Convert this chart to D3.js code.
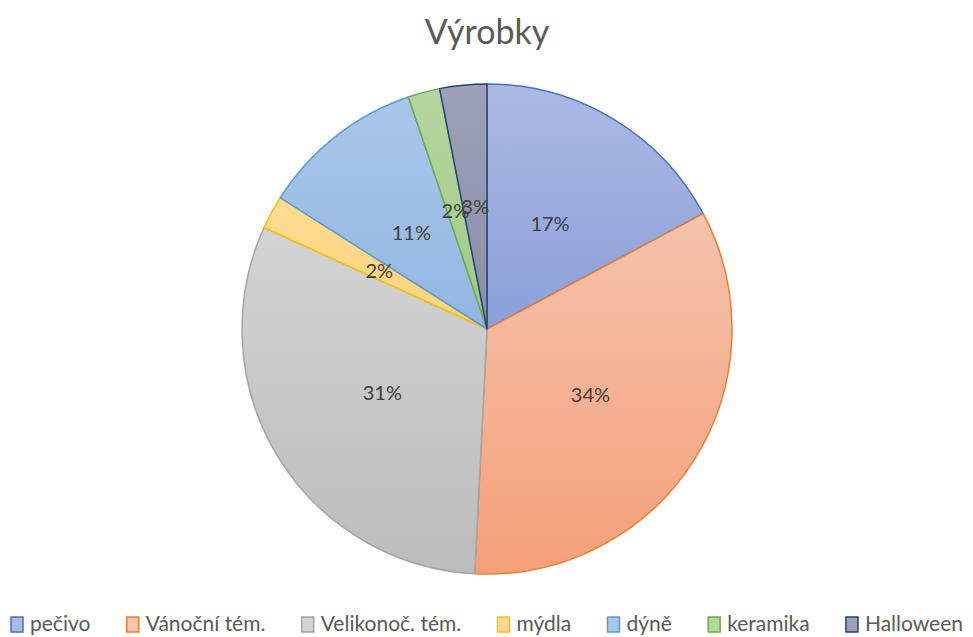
<!DOCTYPE html>
<html>
<head>
<meta charset="utf-8">
<script src="https://cdn.jsdelivr.net/npm/d3@7"></script>
<style>
  body { margin: 0; background: #fff; }
  text { font-family: Lato, "Open Sans", sans-serif; }
</style>
</head>
<body>
<div id="chart"></div>
<script>
const categories = ['pečivo', 'Vánoční tém.', 'Velikonoč. tém.', 'mýdla', 'dýně', 'keramika', 'Halloween'];
const values = [17.2, 33.6, 31.0, 2.2, 10.8, 2.1, 3.1];
const fillTop = ['#abb9e3', '#f6c3ac', '#d3d3d3', '#ffdc92', '#a9c6ea', '#b4d79e', '#9ba1b7'];
const fillBottom = ['#8aa0d9', '#f4a079', '#bcbcbc', '#ffd47c', '#93b6e2', '#a0c986', '#888fa8'];
const strokes = ['#4472c4', '#ed7d31', '#a5a5a5', '#ffc000', '#5b9bd5', '#70ad47', '#264478'];

const width = 973, height = 637;
const cx = 487, cy = 329, radius = 245;

const svg = d3.select('#chart')
  .append('svg')
  .attr('width', width)
  .attr('height', height);

const defs = svg.append('defs');
categories.forEach(function(c, i) {
  const grad = defs.append('linearGradient')
    .attr('id', 'g' + i)
    .attr('x1', 0).attr('y1', 0)
    .attr('x2', 0).attr('y2', 1);
  grad.append('stop').attr('offset', '0%').attr('stop-color', fillTop[i]);
  grad.append('stop').attr('offset', '100%').attr('stop-color', fillBottom[i]);
});

svg.append('text')
  .attr('x', cx)
  .attr('y', 44)
  .attr('text-anchor', 'middle')
  .attr('fill', '#595959')
  .attr('font-size', 34)
  .text('Výrobky');

const pie = d3.pie().sort(null).value(function(d) { return d; });
const arcs = pie(values);
const total = d3.sum(values);

const arc = d3.arc().innerRadius(0).outerRadius(radius);
const labelArc = d3.arc().innerRadius(radius * 0.5).outerRadius(radius * 0.5);

const g = svg.append('g')
  .attr('transform', 'translate(' + cx + ',' + cy + ')');

g.selectAll('.slice')
  .data(arcs)
  .enter().append('path')
  .attr('class', 'slice')
  .attr('d', arc)
  .attr('fill', function(d, i) { return 'url(#g' + i + ')'; })
  .attr('stroke', function(d, i) { return strokes[i]; })
  .attr('stroke-width', 1.5)
  .attr('stroke-linejoin', 'round');

g.selectAll('.lbl')
  .data(arcs)
  .enter().append('text')
  .attr('class', 'lbl')
  .attr('transform', function(d) { return 'translate(' + labelArc.centroid(d) + ')'; })
  .attr('text-anchor', 'middle')
  .attr('dy', '0.35em')
  .attr('fill', '#404040')
  .attr('font-size', 20)
  .text(function(d) { return Math.round(d.value / total * 100) + '%'; });

// legend
const legend = svg.append('g').attr('class', 'legend');
const items = legend.selectAll('.item')
  .data(categories)
  .enter().append('g')
  .attr('class', 'item');

items.append('rect')
  .attr('width', 12)
  .attr('height', 15)
  .attr('y', -14)
  .attr('fill', function(d, i) { return fillTop[i]; })
  .attr('stroke', function(d, i) { return strokes[i]; })
  .attr('stroke-width', 1.5);

items.append('text')
  .attr('x', 19)
  .attr('fill', '#595959')
  .attr('font-size', 21)
  .text(function(d) { return d; });

const widths = [];
items.each(function() { widths.push(this.getBBox().width); });
const span = 963 - 11;
const gap = (span - d3.sum(widths)) / (categories.length - 1);
let xPos = 11;
items.attr('transform', function(d, i) {
  const t = 'translate(' + xPos + ',631)';
  xPos += widths[i] + gap;
  return t;
});
</script>
</body>
</html>
